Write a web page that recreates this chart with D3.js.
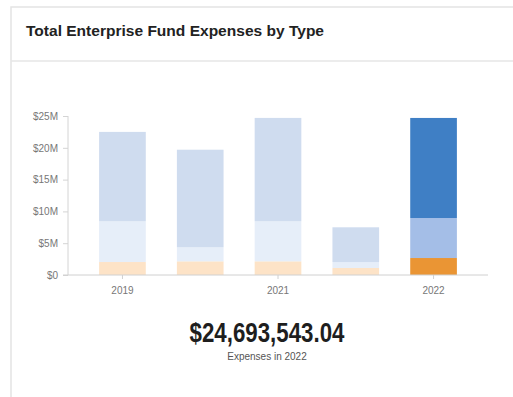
<!DOCTYPE html>
<html>
<head>
<meta charset="utf-8">
<script src="https://cdn.jsdelivr.net/npm/d3@7"></script>
<style>
  html, body { margin: 0; padding: 0; background: #fff; }
  svg { display: block; }
</style>
</head>
<body>
<svg id="chart" width="513" height="397"></svg>
<script>
// Expense data by period (values in dollars)
const categories = ["2019", "2020", "2021", "2021b", "2022"];
const tickLabels = ["2019", "", "2021", "", "2022"];
const segmentTypes = ["operating", "capital", "other"];
const operating = [2040000, 2150000, 2150000, 1100000, 2670000];
const capital   = [6400000, 2210000, 6290000, 940000, 6290000];
const other     = [14060000, 15340000, 16260000, 5460000, 15733543.04];
const yTicks = [0, 5e6, 10e6, 15e6, 20e6, 25e6];
const highlightIndex = 4;
const totalLabel = "$24,693,543.04";
const subLabel = "Expenses in 2022";

const fadedColors = { operating: "#fde3c7", capital: "#e6eef9", other: "#cfdcef" };
const strongColors = { operating: "#ea9534", capital: "#a4bee7", other: "#3f7fc5" };

const svg = d3.select("#chart");

// Card frame
svg.append("rect").attr("x", 11).attr("y", 7).attr("width", 520).attr("height", 400)
  .attr("fill", "#fff").attr("stroke", "#e4e4e4").attr("stroke-width", 1.5);
svg.append("line").attr("x1", 11).attr("x2", 513).attr("y1", 61).attr("y2", 61)
  .attr("stroke", "#e6e6e6").attr("stroke-width", 1.5);
svg.append("text").attr("x", 26).attr("y", 35.5)
  .attr("font-family", "Liberation Sans, Arial, sans-serif")
  .attr("font-weight", "bold").attr("font-size", 15).attr("fill", "#222")
  .attr("textLength", 298).attr("lengthAdjust", "spacingAndGlyphs")
  .text("Total Enterprise Fund Expenses by Type");

const x = d3.scaleBand().domain(categories).range([68, 488]).padding(0.4);
const y = d3.scaleLinear().domain([0, 25e6]).range([275, 116]);

const rows = categories.map((c, i) => ({
  key: c, operating: operating[i], capital: capital[i], other: other[i], idx: i
}));
const stacked = d3.stack().keys(segmentTypes)(rows);

const axisFont = "Liberation Sans Narrow, Arial Narrow, Liberation Sans, sans-serif";

// Y axis
const yAxis = svg.append("g").attr("transform", "translate(68,0)")
  .call(d3.axisLeft(y).tickValues(yTicks).tickSize(5).tickPadding(5)
    .tickFormat(d => d === 0 ? "$0" : "$" + d3.format("d")(d / 1e6) + "M"));
yAxis.select(".domain").attr("stroke", "#d4d4d4").attr("d", "M0,116V275");
yAxis.selectAll(".tick line").attr("stroke", "#d4d4d4");
yAxis.selectAll("text").attr("fill", "#777").attr("font-size", 10)
  .attr("font-family", axisFont);

// Bars
svg.append("g").selectAll("g").data(stacked).join("g")
  .each(function(layer) {
    d3.select(this).selectAll("rect").data(layer).join("rect")
      .attr("x", d => x(d.data.key))
      .attr("width", x.bandwidth())
      .attr("y", d => y(d[1]))
      .attr("height", d => y(d[0]) - y(d[1]))
      .attr("fill", d => d.data.idx === highlightIndex ? strongColors[layer.key] : fadedColors[layer.key]);
  });

// X axis
const labelled = categories.filter((c, i) => tickLabels[i] !== "");
const xAxis = svg.append("g").attr("transform", "translate(0,275)")
  .call(d3.axisBottom(x).tickValues(labelled).tickSize(4).tickPadding(8)
    .tickFormat(c => tickLabels[categories.indexOf(c)]));
xAxis.select(".domain").attr("stroke", "#d0d0d0").attr("d", "M63,0H488");
xAxis.selectAll(".tick line").attr("stroke", "#d0d0d0");
xAxis.selectAll("text").attr("fill", "#777").attr("font-size", 10)
  .attr("font-family", axisFont);

// Total for the highlighted year
svg.append("text").attr("x", 267).attr("y", 342).attr("text-anchor", "middle")
  .attr("font-family", axisFont).attr("font-weight", "bold")
  .attr("font-size", 28).attr("fill", "#1e1e1e")
  .attr("textLength", 155).attr("lengthAdjust", "spacingAndGlyphs")
  .text(totalLabel);
svg.append("text").attr("x", 267).attr("y", 360).attr("text-anchor", "middle")
  .attr("font-family", axisFont).attr("font-size", 10).attr("fill", "#555")
  .text(subLabel);
</script>
</body>
</html>
